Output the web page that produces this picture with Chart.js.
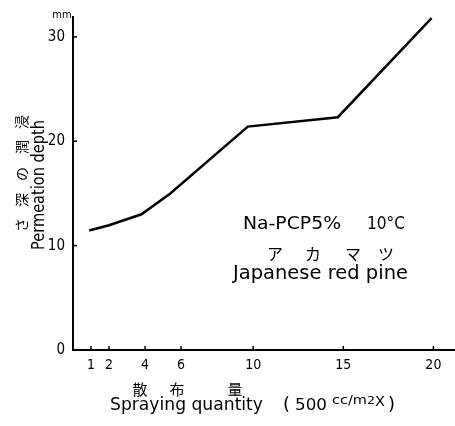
<!DOCTYPE html>
<html><head><meta charset="utf-8">
<script src="https://cdn.jsdelivr.net/npm/chart.js@4.4.1/dist/chart.umd.min.js"></script>
<style>html,body{margin:0;padding:0;background:#fff;}#wrap{width:455px;height:426px;}</style>
</head><body><div id="wrap"><canvas id="c" width="455" height="426"></canvas></div>
<script>
const sprayQuantity = [0.9, 2, 3.8, 5.4, 9.7, 14.7, 19.9];
const permeationDepth = [11.45, 11.95, 13.0, 15.0, 21.4, 22.3, 31.8];
const xTicks = [1, 2, 4, 6, 10, 15, 20];
const yTicks = [0, 10, 20, 30];
const yUnit = 'mm';
const xTitleJa = ['散', '布', '量'];
const xTitleEn = 'Spraying quantity';
const xTitleUnit = ['(', '500', 'cc/m', '2', 'X', ')'];
const yTitleJa = ['さ', '深', 'の', '潤', '浸'];
const yTitleEn = 'Permeation depth';
const noteLine1 = ['Na-PCP5%', '10°C'];
const noteKana = ['ア', 'カ', 'マ', 'ツ'];
const noteLine3 = 'Japanese red pine';

const FONT = '"DejaVu Sans", sans-serif';
const CJK = '"Noto Sans CJK JP", sans-serif';

function fitText(ctx, text, x, y, width, font) {
  ctx.font = font;
  const w = ctx.measureText(text).width;
  ctx.save();
  ctx.translate(x, y);
  ctx.scale(width / w, 1);
  ctx.fillText(text, 0, 0);
  ctx.restore();
}

const decor = {
  id: 'decor',
  afterDraw(chart) {
    const ctx = chart.ctx;
    const xs = chart.scales.x, ys = chart.scales.y;
    ctx.save();
    ctx.strokeStyle = '#000';
    ctx.lineWidth = 1.5;
    xTicks.forEach(v => {
      const px = xs.getPixelForValue(v);
      ctx.beginPath(); ctx.moveTo(px, ys.bottom); ctx.lineTo(px, ys.bottom - 4); ctx.stroke();
    });
    yTicks.forEach(v => {
      if (v === 0) return;
      const py = ys.getPixelForValue(v);
      ctx.beginPath(); ctx.moveTo(xs.left, py); ctx.lineTo(xs.left + 4, py); ctx.stroke();
    });
    ctx.fillStyle = '#000';
    ctx.font = '10px ' + FONT;
    ctx.textAlign = 'center'; ctx.textBaseline = 'middle';
    ctx.fillText(yUnit, 62, 15);
    // x title (Japanese)
    ctx.font = '15px ' + CJK;
    [140, 177, 235].forEach((cx, i) => ctx.fillText(xTitleJa[i], cx, 389));
    // x title (English)
    ctx.textAlign = 'left'; ctx.textBaseline = 'alphabetic';
    const base = 410;
    fitText(ctx, xTitleEn, 110, base, 153, '18px ' + FONT);
    ctx.font = '18px ' + FONT;
    ctx.fillText(xTitleUnit[0], 283, base);
    fitText(ctx, xTitleUnit[1], 295, base, 32, '16px ' + FONT);
    fitText(ctx, xTitleUnit[2], 332, base - 6, 35, '12px ' + FONT);
    fitText(ctx, xTitleUnit[3], 367, base - 6, 8, '10px ' + FONT);
    fitText(ctx, xTitleUnit[4], 375, base - 4, 10, '14px ' + FONT);
    ctx.font = '18px ' + FONT;
    ctx.fillText(xTitleUnit[5], 388, base);
    // y titles
    ctx.save();
    ctx.translate(22, 174); ctx.rotate(-Math.PI / 2);
    ctx.textAlign = 'center'; ctx.textBaseline = 'middle';
    ctx.font = '14px ' + CJK;
    [-51, -26, 0, 27, 52].forEach((o, i) => ctx.fillText(yTitleJa[i], o, 0));
    ctx.restore();
    ctx.save();
    ctx.translate(40, 185); ctx.rotate(-Math.PI / 2);
    ctx.textAlign = 'left'; ctx.textBaseline = 'middle';
    fitText(ctx, yTitleEn, -65, 0, 130, '17px ' + FONT);
    ctx.restore();
    // note
    ctx.textAlign = 'left'; ctx.textBaseline = 'middle';
    fitText(ctx, noteLine1[0], 243, 225, 98, '17px ' + FONT);
    fitText(ctx, noteLine1[1], 367, 225, 38, '17px ' + FONT);
    ctx.font = '16px ' + CJK;
    [267, 305, 345, 378].forEach((x, i) => ctx.fillText(noteKana[i], x, 254));
    fitText(ctx, noteLine3, 233, 274, 175, '20px ' + FONT);
    ctx.restore();
  }
};

new Chart(document.getElementById('c'), {
  type: 'scatter',
  data: {
    datasets: [{
      data: sprayQuantity.map((q, i) => ({ x: q, y: permeationDepth[i] })),
      showLine: true,
      borderColor: '#000',
      borderWidth: 2.5,
      pointRadius: 0,
      tension: 0,
      fill: false
    }]
  },
  options: {
    responsive: false,
    animation: false,
    layout: { padding: { top: 13, right: 0, left: 0, bottom: 0 } },
    plugins: { legend: { display: false }, tooltip: { enabled: false } },
    scales: {
      x: {
        type: 'linear', min: 0, max: 21.2,
        afterBuildTicks: s => { s.ticks = xTicks.map(v => ({ value: v })); },
        afterFit: s => { s.height = 76; },
        grid: { display: true, drawOnChartArea: false, drawTicks: false },
        border: { display: true, color: '#000', width: 2 },
        ticks: { color: '#000', padding: 7, maxRotation: 0, autoSkip: false, font: { family: '"DejaVu Sans Condensed", sans-serif', size: 14 } }
      },
      y: {
        type: 'linear', min: 0, max: 31.9,
        afterBuildTicks: s => { s.ticks = yTicks.map(v => ({ value: v })); },
        afterFit: s => { s.width = 73; },
        grid: { display: true, drawOnChartArea: false, drawTicks: false },
        border: { display: true, color: '#000', width: 2 },
        ticks: { color: '#000', padding: 8, font: { family: '"DejaVu Sans Condensed", sans-serif', size: 15 } }
      }
    }
  },
  plugins: [decor]
});
</script>
</body></html>
